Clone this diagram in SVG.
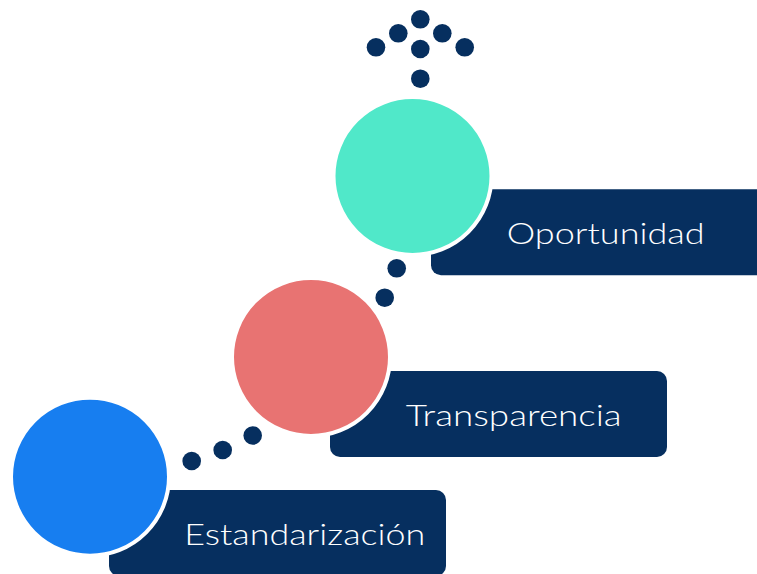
<svg xmlns="http://www.w3.org/2000/svg" width="757" height="574" viewBox="0 0 757 574">
<style>
.box{fill:#062F5F}
.dot{fill:#062F5F}
.ring{stroke:#FFFFFF;stroke-width:4}
.lbl{fill:#FFFFFF;font-family:Lato,"Open Sans","DejaVu Sans",sans-serif;font-weight:300;font-size:30px}
</style>
<rect width="757" height="574" fill="#FFFFFF"/>
<g id="connectors">
<circle class="dot" cx="396.7" cy="268.3" r="9.3"/>
<circle class="dot" cx="384.7" cy="297.7" r="9.3"/>
<circle class="dot" cx="252.7" cy="435.5" r="9.3"/>
<circle class="dot" cx="222.7" cy="450" r="9.3"/>
<circle class="dot" cx="191.7" cy="461" r="9.3"/>
</g>
<g id="arrow">
<circle class="dot" cx="420.3" cy="19.3" r="9.3"/>
<circle class="dot" cx="398.3" cy="33.3" r="9.3"/>
<circle class="dot" cx="442.3" cy="33.3" r="9.3"/>
<circle class="dot" cx="376" cy="47.3" r="9.3"/>
<circle class="dot" cx="420.3" cy="49" r="9.3"/>
<circle class="dot" cx="464.7" cy="47.3" r="9.3"/>
<circle class="dot" cx="420.3" cy="78.7" r="9.3"/>
</g>
<g id="node-estandarizacion">
<rect class="box" x="109" y="490" width="337" height="86" rx="10"/>
<circle class="ring" cx="90" cy="476.7" r="79" fill="#177EF0"/>
<text class="lbl" x="184.3" y="544.5" textLength="241" lengthAdjust="spacingAndGlyphs">Estandarización</text>
</g>
<g id="node-transparencia">
<rect class="box" x="330" y="371" width="337" height="86" rx="10"/>
<circle class="ring" cx="311" cy="357" r="79" fill="#E87372"/>
<text class="lbl" x="405.7" y="425.5" textLength="216" lengthAdjust="spacingAndGlyphs">Transparencia</text>
</g>
<g id="node-oportunidad">
<rect class="box" x="431" y="189.3" width="337" height="86" rx="10"/>
<circle class="ring" cx="412.5" cy="176" r="79" fill="#50E8C9"/>
<text class="lbl" x="506.7" y="244" textLength="198" lengthAdjust="spacingAndGlyphs">Oportunidad</text>
</g>
</svg>
